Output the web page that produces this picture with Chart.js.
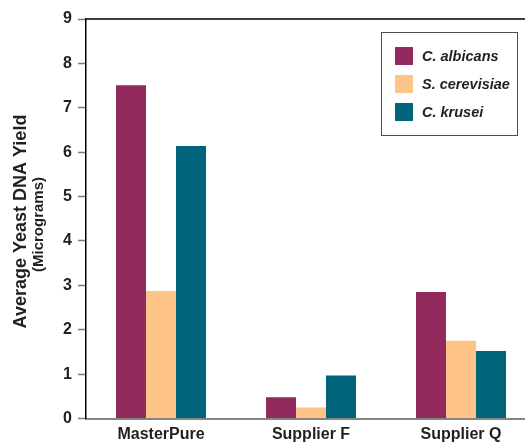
<!DOCTYPE html>
<html>
<head>
<meta charset="utf-8">
<script src="https://cdn.jsdelivr.net/npm/chart.js@4"></script>
<style>
  html, body { margin: 0; padding: 0; background: #fff; overflow: hidden; }
  #wrap { width: 537px; height: 446px; }
</style>
</head>
<body>
<div id="wrap"><canvas id="yieldChart" width="537" height="446"></canvas></div>
<script>
// Chart data
const suppliers = ['MasterPure', 'Supplier F', 'Supplier Q'];
const speciesNames = ['C. albicans', 'S. cerevisiae', 'C. krusei'];
const albicansYield = [7.51, 0.48, 2.85];
const cerevisiaeYield = [2.87, 0.25, 1.75];
const kruseiYield = [6.14, 0.97, 1.52];
const yTicks = [0, 1, 2, 3, 4, 5, 6, 7, 8, 9];

const barColors = ['#922a5e', '#fdc387', '#00657a'];
const textColor = '#231f20';
const fontFamily = '"Liberation Sans", Arial, Helvetica, sans-serif';

// Frame line across the top of the plot
const topLine = {
  id: 'topLine',
  afterDraw(chart) {
    const { ctx, chartArea } = chart;
    ctx.save();
    ctx.strokeStyle = '#000';
    ctx.lineWidth = 1.5;
    ctx.beginPath();
    ctx.moveTo(chartArea.left - 0.75, chartArea.top);
    ctx.lineTo(chart.width, chartArea.top);
    ctx.stroke();
    ctx.restore();
  }
};

// Two-line y axis title
const yTitle = {
  id: 'yTitle',
  afterDraw(chart) {
    const ctx = chart.ctx;
    ctx.save();
    ctx.fillStyle = textColor;
    ctx.textAlign = 'center';
    ctx.textBaseline = 'alphabetic';

    ctx.save();
    ctx.translate(25.5, 221.5);
    ctx.rotate(-Math.PI / 2);
    ctx.font = 'bold 18px ' + fontFamily;
    ctx.fillText('Average Yeast DNA Yield', 0, 0);
    ctx.restore();

    ctx.save();
    ctx.translate(43, 224.5);
    ctx.rotate(-Math.PI / 2);
    ctx.font = 'bold 15px ' + fontFamily;
    ctx.fillText('(Micrograms)', 0, 0);
    ctx.restore();

    ctx.restore();
  }
};

// Boxed legend inside the plot
const boxLegend = {
  id: 'boxLegend',
  afterDraw(chart) {
    const ctx = chart.ctx;
    ctx.save();
    ctx.strokeStyle = '#4d4d4d';
    ctx.lineWidth = 1;
    ctx.strokeRect(381.5, 32.5, 136, 103);
    ctx.font = 'italic bold 14.5px ' + fontFamily;
    ctx.textBaseline = 'middle';
    ctx.textAlign = 'left';
    chart.data.datasets.forEach((ds, i) => {
      const y = 47 + i * 28;
      ctx.fillStyle = ds.backgroundColor;
      ctx.fillRect(395, y, 18, 18);
      ctx.fillStyle = textColor;
      ctx.fillText(ds.label, 422, y + 9.5);
    });
    ctx.restore();
  }
};

new Chart(document.getElementById('yieldChart'), {
  type: 'bar',
  data: {
    labels: suppliers,
    datasets: [
      { label: speciesNames[0], data: albicansYield, backgroundColor: barColors[0] },
      { label: speciesNames[1], data: cerevisiaeYield, backgroundColor: barColors[1] },
      { label: speciesNames[2], data: kruseiYield, backgroundColor: barColors[2] }
    ]
  },
  options: {
    responsive: false,
    animation: false,
    categoryPercentage: 0.6,
    barPercentage: 1.0,
    layout: { padding: { top: 19, right: 1, left: 0, bottom: 0 } },
    plugins: {
      legend: { display: false },
      tooltip: { enabled: false }
    },
    scales: {
      x: {
        grid: { display: false, drawTicks: false },
        border: { display: true, color: '#858585', width: 2 },
        ticks: {
          color: textColor,
          font: { family: fontFamily, size: 16, weight: 'bold' },
          padding: 6,
          maxRotation: 0
        },
        afterFit(scale) { scale.height = 27.5; }
      },
      y: {
        min: 0,
        max: 9,
        afterBuildTicks(scale) { scale.ticks = yTicks.map(v => ({ value: v })); },
        grid: {
          display: true,
          drawOnChartArea: false,
          drawTicks: true,
          tickLength: 8,
          tickColor: '#7a7a7a',
          tickWidth: 1.5
        },
        border: { display: true, color: '#000', width: 1.5 },
        ticks: {
          color: textColor,
          font: { family: fontFamily, size: 16, weight: 'bold' },
          padding: 6
        },
        afterFit(scale) { scale.width = 86; }
      }
    }
  },
  plugins: [topLine, yTitle, boxLegend]
});
</script>
</body>
</html>
